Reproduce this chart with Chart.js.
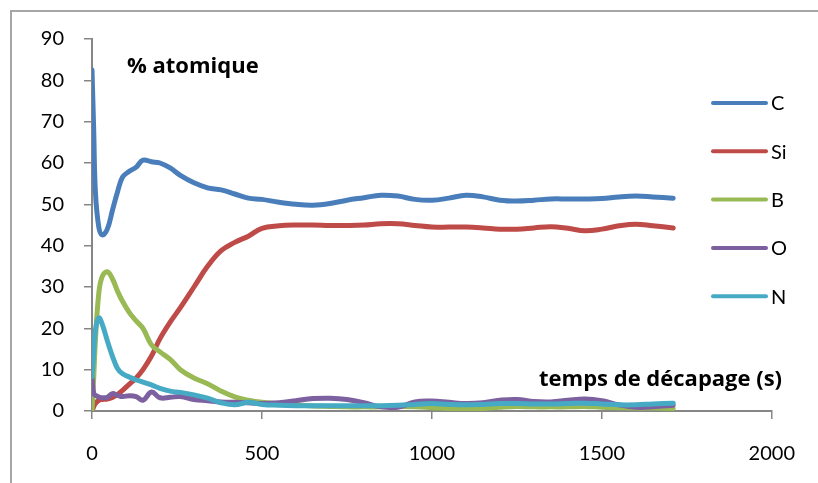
<!DOCTYPE html>
<html>
<head>
<meta charset="utf-8">
<script src="https://cdn.jsdelivr.net/npm/chart.js@4.4.1/dist/chart.umd.min.js"></script>
<style>
  html, body { margin: 0; padding: 0; background: #fff; }
  #wrap { width: 818px; height: 483px; }
</style>
</head>
<body>
<div id="wrap"><canvas id="profil" width="818" height="483"></canvas></div>
<script>
// sputter time (s) shared by every series
const temps = [0, 5, 10, 20, 30, 45, 60, 75, 90, 110, 130, 150, 175, 200, 230, 260, 300, 340, 380, 420,
  460, 500, 550, 600, 650, 700, 750, 800, 850, 900, 950, 1000, 1050, 1100, 1150, 1200, 1250, 1300,
  1350, 1400, 1450, 1500, 1550, 1600, 1650, 1710];

// atomic % per element
const carbone = [82.5, 68, 53, 44.5, 42.6, 44, 48.5, 53, 56.6, 58, 59, 60.7, 60.3, 60, 58.8, 57, 55.2, 54, 53.5, 52.5,
  51.5, 51.2, 50.5, 50, 49.8, 50.2, 51, 51.6, 52.2, 52, 51.2, 51, 51.5, 52.2, 51.8, 51, 50.8, 51,
  51.3, 51.3, 51.3, 51.4, 51.8, 52, 51.8, 51.5];
const silicium = [0, 1, 1.8, 2.6, 2.8, 2.9, 3.3, 4, 5, 6.5, 8, 10, 13.3, 17.5, 21.5, 25, 30, 35, 38.8, 40.8,
  42.3, 44.2, 44.8, 45, 45, 44.9, 44.9, 45, 45.3, 45.3, 44.9, 44.5, 44.5, 44.5, 44.3, 44, 44, 44.3,
  44.6, 44.2, 43.6, 44, 44.8, 45.2, 44.8, 44.3];
const bore = [0, 8, 17, 28.5, 32.5, 33.7, 32, 29, 26.5, 23.8, 21.8, 20, 16, 14.3, 12.5, 10, 8, 6.6, 4.8, 3.4,
  2.6, 2.1, 1.8, 1.5, 1.2, 1.1, 1, 1, 1, 1.1, 1, 0.8, 0.6, 0.5, 0.6, 0.9, 1.1, 1,
  1, 1, 1.1, 0.9, 0.8, 0.7, 0.7, 0.6];
const oxygene = [8, 4.3, 3.8, 3.4, 3.2, 3.3, 4.2, 3.8, 3.5, 3.7, 3.5, 2.6, 4.6, 3.2, 3.3, 3.5, 2.8, 2.5, 2.2, 2.1,
  2, 1.8, 2, 2.5, 3, 3.1, 2.8, 2, 1, 0.9, 2.2, 2.4, 2.1, 1.8, 2, 2.6, 2.8, 2.3,
  2.2, 2.6, 2.9, 2.5, 1.5, 0.9, 1, 1.4];
const azote = [8.3, 14, 19.6, 22.5, 21, 17, 13.3, 10.3, 9, 8.2, 7.5, 7, 6.3, 5.5, 4.8, 4.5, 3.9, 3.1, 2, 1.5,
  2.1, 1.6, 1.4, 1.3, 1.3, 1.3, 1.3, 1.3, 1.3, 1.4, 1.6, 1.8, 1.6, 1.5, 1.6, 1.8, 1.8, 1.7,
  1.7, 1.8, 1.9, 1.7, 1.5, 1.5, 1.7, 1.9];

const elements = ['C', 'Si', 'B', 'O', 'N'];
const couleurs = ['#4a7ebb', '#be4b48', '#98b954', '#7d60a0', '#46aac5'];
const series = [carbone, silicium, bore, oxygene, azote];

const FONT = 'Lato, "Open Sans", sans-serif';
const FONT_GRAS = '"Open Sans", Lato, sans-serif';
const GRIS = '#868686';

// texts, legend and the outer frame are drawn by hand on top of the chart
const decor = {
  id: 'decor',
  afterDraw(chart) {
    const ctx = chart.ctx;
    ctx.save();

    ctx.strokeStyle = '#a6a6a6';
    ctx.lineWidth = 2;
    ctx.beginPath();
    ctx.moveTo(11, 490);
    ctx.lineTo(11, 11);
    ctx.lineTo(830, 11);
    ctx.stroke();

    ctx.fillStyle = '#000';
    ctx.textBaseline = 'alphabetic';
    ctx.textAlign = 'left';
    ctx.font = 'bold 22px ' + FONT_GRAS;
    ctx.fillText('% atomique', 127, 73);
    ctx.fillText('temps de décapage (s)', 539, 386);

    ctx.font = '20px ' + FONT;
    ctx.textBaseline = 'middle';
    ctx.lineCap = 'round';
    ctx.lineWidth = 4;
    chart.data.datasets.forEach((ds, i) => {
      const y = 103 + i * 48.3;
      ctx.strokeStyle = ds.borderColor;
      ctx.beginPath();
      ctx.moveTo(713, y);
      ctx.lineTo(766, y);
      ctx.stroke();
      ctx.fillText(ds.label, 771, y + 1);
    });
    ctx.restore();
  }
};

new Chart(document.getElementById('profil'), {
  type: 'line',
  data: {
    datasets: elements.map((el, i) => ({
      label: el,
      data: temps.map((t, k) => ({ x: t, y: series[i][k] })),
      borderColor: couleurs[i],
      backgroundColor: couleurs[i],
      borderWidth: 5,
      pointRadius: 0,
      tension: 0.4,
      borderCapStyle: 'round',
      borderJoinStyle: 'round',
      order: elements.length - i
    }))
  },
  options: {
    responsive: false,
    animation: false,
    devicePixelRatio: 1,
    layout: { padding: { left: 12, top: 39, right: 40, bottom: 12 } },
    plugins: { legend: { display: false }, tooltip: { enabled: false } },
    scales: {
      x: {
        type: 'linear',
        min: 0,
        max: 2000,
        afterFit: s => { s.height = 60; },
        border: { display: true, color: GRIS, width: 2 },
        grid: { drawOnChartArea: false, color: GRIS, tickLength: 8, lineWidth: 1.5 },
        ticks: {
          stepSize: 500, padding: 23, color: '#000', font: { family: FONT, size: 20 },
          callback: v => String(v)
        }
      },
      y: {
        min: 0,
        max: 90,
        afterFit: s => { s.width = 80; },
        border: { display: true, color: GRIS, width: 2 },
        grid: { drawOnChartArea: false, color: GRIS, tickLength: 8, lineWidth: 1.5 },
        ticks: { stepSize: 10, padding: 20, color: '#000', font: { family: FONT, size: 20 } }
      }
    }
  },
  plugins: [decor]
});
</script>
</body>
</html>
